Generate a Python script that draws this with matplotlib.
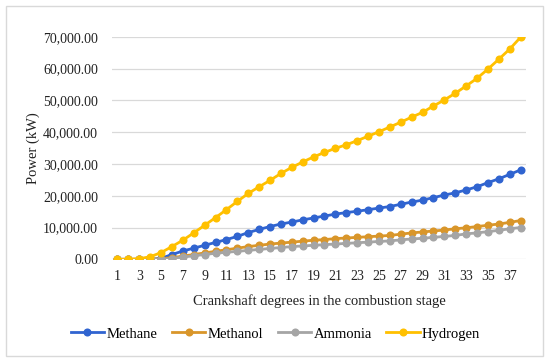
import numpy as np
import matplotlib
matplotlib.use('Agg')
from matplotlib import pyplot as plt
from matplotlib.patches import Rectangle
from matplotlib.ticker import FuncFormatter

# Crankshaft degrees 1..38
degrees = list(range(1, 39))

methane = [0, 0, 0, 0, 300, 1500, 2600, 3500, 4400, 5300,
           6200, 7200, 8400, 9400, 10300, 11100, 11700, 12400, 13000, 13600,
           14200, 14700, 15100, 15600, 16100, 16600, 17300, 18000, 18600, 19400,
           20200, 20900, 21800, 22800, 24100, 25300, 26700, 28100]
methanol = [0, 0, 0, 0, 200, 500, 1000, 1500, 2000, 2500,
            3000, 3500, 4000, 4400, 4800, 5100, 5400, 5700, 6000, 6200,
            6500, 6700, 6900, 7100, 7300, 7500, 7900, 8300, 8600, 8900,
            9200, 9600, 9900, 10300, 10700, 11100, 11600, 12200]
ammonia = [0, 0, 0, 0, 0, 200, 700, 1100, 1500, 1900,
           2200, 2500, 2800, 3100, 3400, 3700, 4000, 4200, 4400, 4600,
           4800, 5000, 5200, 5400, 5600, 5800, 6100, 6400, 6600, 6900,
           7200, 7500, 8000, 8300, 8700, 9100, 9600, 10000]
hydrogen = [0, 0, 200, 800, 2100, 4000, 6000, 8300, 10700, 13100,
            15600, 18200, 20700, 22800, 24800, 27000, 28900, 30600, 32200, 33600,
            34900, 36000, 37300, 38700, 40100, 41600, 43100, 44700, 46200, 48200,
            50100, 52200, 54500, 56900, 59800, 62900, 66100, 69800]

series = [('Methane', methane, '#3064D0'),
          ('Methanol', methanol, '#D9962A'),
          ('Ammonia', ammonia, '#A5A5A5'),
          ('Hydrogen', hydrogen, '#FFC000')]

plt.rcParams['font.family'] = ['Liberation Serif', 'DejaVu Serif']

W, H = 550, 362
fig = plt.figure(figsize=(W / 100, H / 100), dpi=100)

# light grey chart border
fig.patches.append(Rectangle((5.5 / W, 1 - 356 / H), (543 - 5.5) / W, (356 - 5.5) / H,
                             transform=fig.transFigure, fill=False,
                             edgecolor='#D9D9D9', linewidth=1))

ax = fig.add_axes([112 / W, 1 - 259.3 / H, (526 - 112) / W, (259.3 - 36.7) / H])

for name, vals, col in series:
    ax.plot(degrees, vals, color=col, linewidth=2, marker='o', markersize=5.8,
            markeredgewidth=0, label=name)

ax.set_xlim(0.5, 38.5)
ax.set_ylim(0, 70000)
ax.set_xticks(degrees[::2])
ax.set_yticks(np.arange(0, 70001, 10000))
ax.yaxis.set_major_formatter(FuncFormatter(lambda v, p: '{:,.2f}'.format(v)))
ax.tick_params(axis='both', length=0, labelsize=10, colors='#222222')
ax.tick_params(axis='y', pad=10)
ax.tick_params(axis='x', pad=8)
ax.grid(axis='y', color='#D9D9D9', linewidth=0.9)
ax.set_axisbelow(True)
for s in ax.spines.values():
    s.set_visible(False)

fig.text(319 / W, 1 - 301 / H, 'Crankshaft degrees in the combustion stage',
         ha='center', va='center', fontsize=10.5, color='#222222')
fig.text(33 / W, 1 - 148 / H, 'Power (kW)', rotation=90,
         ha='center', va='center', fontsize=10.5, color='#222222')

fig.legend(loc='center', bbox_to_anchor=(275.5 / W, 1 - 334 / H), ncol=4,
           frameon=False, fontsize=10.5, handlelength=2.3, handletextpad=0.15,
           columnspacing=1.0, borderaxespad=0)

fig.savefig('out.png', dpi=100)
